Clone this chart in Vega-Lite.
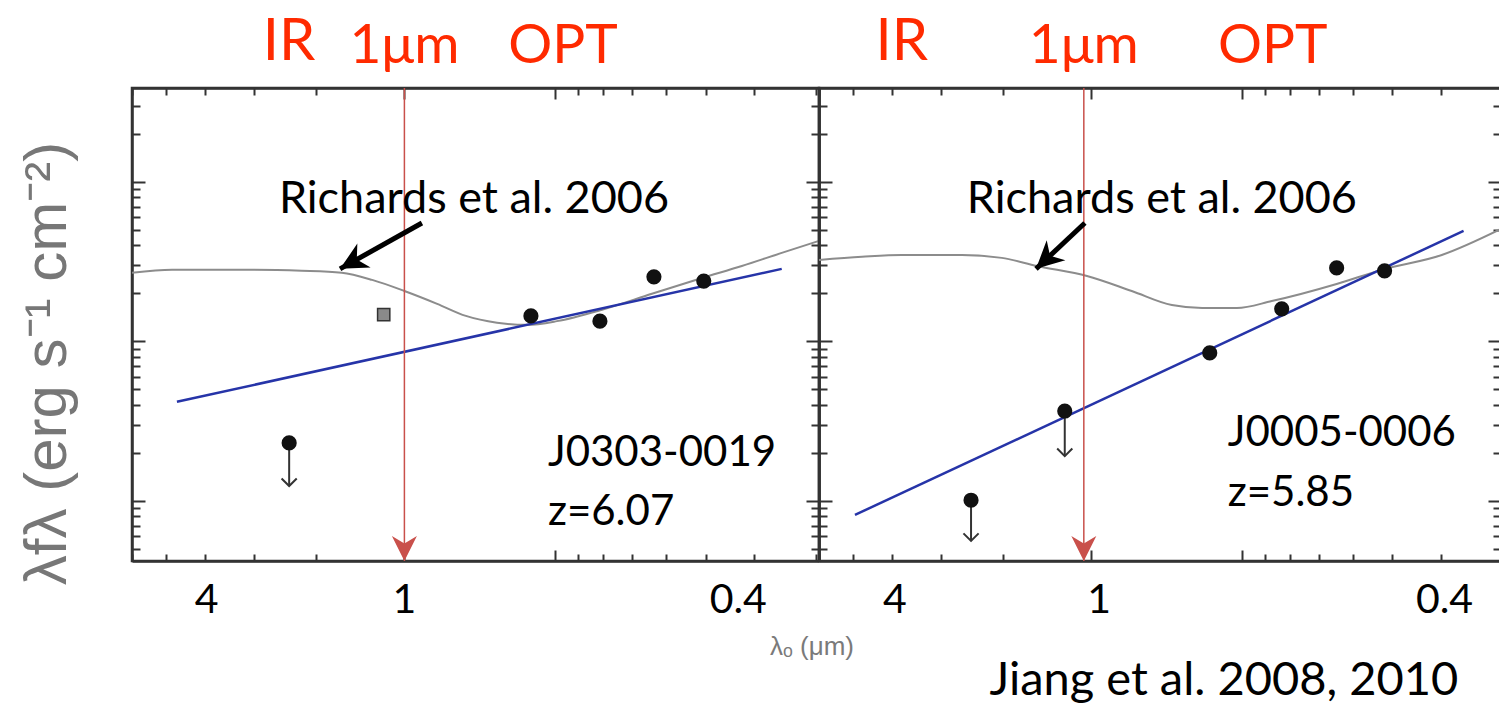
{
  "$schema": "https://vega.github.io/schema/vega-lite/v6.json",
  "background": "white",
  "padding": {"left": 15, "top": 12, "right": 0, "bottom": 0},
  "bounds": "flush",
  "spacing": 0,
  "config": {
    "view": {"stroke": "#333333", "strokeWidth": 2.5},
    "axis": {"grid": false}
  },
  "datasets": {
    "curve": [
      {"panel": "left", "wl": 7.01, "flux": 2.69e-13},
      {"panel": "left", "wl": 5.83, "flux": 2.81e-13},
      {"panel": "left", "wl": 4.04, "flux": 2.81e-13},
      {"panel": "left", "wl": 3.21, "flux": 2.77e-13},
      {"panel": "left", "wl": 2.67, "flux": 2.69e-13},
      {"panel": "left", "wl": 2.32, "flux": 2.43e-13},
      {"panel": "left", "wl": 2.0, "flux": 2.07e-13},
      {"panel": "left", "wl": 1.72, "flux": 1.72e-13},
      {"panel": "left", "wl": 1.507, "flux": 1.445e-13},
      {"panel": "left", "wl": 1.306, "flux": 1.31e-13},
      {"panel": "left", "wl": 1.138, "flux": 1.27e-13},
      {"panel": "left", "wl": 0.991, "flux": 1.34e-13},
      {"panel": "left", "wl": 0.805, "flux": 1.58e-13},
      {"panel": "left", "wl": 0.64, "flux": 1.99e-13},
      {"panel": "left", "wl": 0.508, "flux": 2.5e-13},
      {"panel": "left", "wl": 0.423, "flux": 2.97e-13},
      {"panel": "left", "wl": 0.352, "flux": 3.59e-13},
      {"panel": "left", "wl": 0.2965, "flux": 4.27e-13},
      {"panel": "right", "wl": 7.01, "flux": 3.24e-13},
      {"panel": "right", "wl": 5.75, "flux": 3.39e-13},
      {"panel": "right", "wl": 4.79, "flux": 3.48e-13},
      {"panel": "right", "wl": 3.63, "flux": 3.48e-13},
      {"panel": "right", "wl": 3.02, "flux": 3.34e-13},
      {"panel": "right", "wl": 2.57, "flux": 2.97e-13},
      {"panel": "right", "wl": 2.04, "flux": 2.57e-13},
      {"panel": "right", "wl": 1.66, "flux": 2.07e-13},
      {"panel": "right", "wl": 1.38, "flux": 1.69e-13},
      {"panel": "right", "wl": 1.2, "flux": 1.62e-13},
      {"panel": "right", "wl": 1.023, "flux": 1.62e-13},
      {"panel": "right", "wl": 0.871, "flux": 1.79e-13},
      {"panel": "right", "wl": 0.646, "flux": 2.29e-13},
      {"panel": "right", "wl": 0.525, "flux": 2.81e-13},
      {"panel": "right", "wl": 0.398, "flux": 3.48e-13},
      {"panel": "right", "wl": 0.303, "flux": 5.07e-13}
    ],
    "fit": [
      {"panel": "left", "wl": 5.7, "flux": 4.18e-14},
      {"panel": "left", "wl": 0.352, "flux": 2.85e-13},
      {"panel": "right", "wl": 5.94, "flux": 8.17e-15},
      {"panel": "right", "wl": 0.36, "flux": 4.93e-13}
    ],
    "phot": [
      {"panel": "left", "wl": 3.4, "flux": 2.31e-14, "kind": "limit", "limit": 1.24e-14},
      {"panel": "left", "wl": 2.2, "flux": 1.47e-13, "kind": "uncertain"},
      {"panel": "left", "wl": 1.117, "flux": 1.445e-13, "kind": "detection"},
      {"panel": "left", "wl": 0.813, "flux": 1.34e-13, "kind": "detection"},
      {"panel": "left", "wl": 0.634, "flux": 2.54e-13, "kind": "detection"},
      {"panel": "left", "wl": 0.504, "flux": 2.39e-13, "kind": "detection"},
      {"panel": "right", "wl": 3.48, "flux": 1.01e-14, "kind": "limit", "limit": 5.61e-15},
      {"panel": "right", "wl": 2.26, "flux": 3.66e-14, "kind": "limit", "limit": 1.91e-14},
      {"panel": "right", "wl": 1.159, "flux": 8.47e-14, "kind": "detection"},
      {"panel": "right", "wl": 0.832, "flux": 1.6e-13, "kind": "detection"},
      {"panel": "right", "wl": 0.646, "flux": 2.89e-13, "kind": "detection"},
      {"panel": "right", "wl": 0.518, "flux": 2.77e-13, "kind": "detection"}
    ],
    "marker": [
      {"panel": "left", "wl": 2.0},
      {"panel": "right", "wl": 2.07}
    ],
    "pointer": [
      {"panel": "left", "wl": 1.845, "flux": 5.53e-13, "wl2": 2.69, "flux2": 2.85e-13},
      {"panel": "right", "wl": 2.06, "flux": 5.53e-13, "wl2": 2.58, "flux2": 2.85e-13}
    ],
    "notes": [
      {"panel": "left", "role": "ir", "text": "IR", "wl": 3.4, "flux": 5.82e-12},
      {"panel": "left", "role": "band", "text": "1μm", "wl": 2.0, "flux": 5.57e-12},
      {"panel": "left", "role": "band", "text": "OPT", "wl": 0.964, "flux": 5.57e-12},
      {"panel": "left", "role": "tick", "text": "4", "wl": 4.97, "flux": 1.99e-15},
      {"panel": "left", "role": "tick", "text": "1", "wl": 2.0, "flux": 1.99e-15},
      {"panel": "left", "role": "tick", "text": "0.4", "wl": 0.43, "flux": 1.99e-15},
      {"panel": "left", "role": "template", "text": "Richards et al. 2006", "wl": 1.452, "flux": 6.4e-13},
      {"panel": "left", "role": "object", "text": "J0303-0019", "wl": 1.033, "flux": 1.66e-14},
      {"panel": "left", "role": "object", "text": "z=6.07", "wl": 1.033, "flux": 7.08e-15},
      {"panel": "left", "role": "xtitle", "text": "λₒ (μm)", "wl": 0.3715, "flux": 1.08e-15},
      {"panel": "right", "role": "ir", "text": "IR", "wl": 4.79, "flux": 5.82e-12},
      {"panel": "right", "role": "band", "text": "1μm", "wl": 2.07, "flux": 5.57e-12},
      {"panel": "right", "role": "band", "text": "OPT", "wl": 0.867, "flux": 5.57e-12},
      {"panel": "right", "role": "tick", "text": "4", "wl": 4.94, "flux": 1.99e-15},
      {"panel": "right", "role": "tick", "text": "1", "wl": 1.93, "flux": 1.99e-15},
      {"panel": "right", "role": "tick", "text": "0.4", "wl": 0.393, "flux": 1.99e-15},
      {"panel": "right", "role": "template", "text": "Richards et al. 2006", "wl": 1.445, "flux": 6.4e-13},
      {"panel": "right", "role": "object", "text": "J0005-0006", "wl": 1.067, "flux": 2.21e-14},
      {"panel": "right", "role": "object", "text": "z=5.85", "wl": 1.067, "flux": 9.3e-15},
      {"panel": "right", "role": "credit", "text": "Jiang et al. 2008, 2010", "wl": 1.086, "flux": 6.1e-16}
    ]
  },
  "hconcat": [
    {
      "width": 687,
      "height": 473,
      "resolve": {"axis": {"x": "independent", "y": "independent"}},
      "layer": [
        {
          "data": {"name": "curve"},
          "transform": [{"filter": "datum.panel === 'left'"}],
          "mark": {"type": "line", "color": "#8c8c8c", "strokeWidth": 2, "interpolate": "monotone"},
          "encoding": {
            "x": {"field": "wl", "type": "quantitative", "scale": {"type": "log", "domain": [0.2965, 7.01], "reverse": true, "nice": false},
              "axis": {"orient": "bottom", "values": [7, 6, 5, 4, 3, 2, 1, 0.9, 0.8, 0.7, 0.6, 0.5, 0.4, 0.3], "labels": false, "title": null,
                "tickSize": {"condition": {"test": "datum.value === 1 || datum.value === 2", "value": -11}, "value": -7},
                "tickColor": "#333333", "tickWidth": 2, "domainColor": "#333333", "domainWidth": 2.5}},
            "y": {"field": "flux", "type": "quantitative", "scale": {"type": "log", "domain": [4.2e-15, 3.88e-12], "nice": false},
              "axis": {"orient": "left", "values": [5e-15, 6e-15, 7e-15, 8e-15, 9e-15, 1e-14, 2e-14, 3e-14, 4e-14, 5e-14, 6e-14, 7e-14, 8e-14, 9e-14, 1e-13, 2e-13, 3e-13, 4e-13, 5e-13, 6e-13, 7e-13, 8e-13, 9e-13, 1e-12, 2e-12, 3e-12],
                "labels": false, "title": "λfλ (erg s⁻¹ cm⁻²)", "titleFont": "Liberation Sans", "titleFontSize": 60, "titleFontWeight": "normal", "titleColor": "#777777",
                "titleAngle": -90, "titleX": -85, "titleY": 275, "titleAlign": "center", "titleBaseline": "middle",
                "tickSize": {"condition": {"test": "datum.value === 1e-14 || datum.value === 1e-13 || datum.value === 1e-12", "value": -13}, "value": -8},
                "tickColor": "#333333", "tickWidth": 2, "domainColor": "#333333", "domainWidth": 2.5}}
          }
        },
        {
          "data": {"name": "fit"},
          "transform": [{"filter": "datum.panel === 'left'"}],
          "mark": {"type": "line", "color": "#2634a8", "strokeWidth": 2.5},
          "encoding": {
            "x": {"field": "wl", "type": "quantitative",
              "axis": {"orient": "top", "values": [7, 6, 5, 4, 3, 2, 1, 0.9, 0.8, 0.7, 0.6, 0.5, 0.4, 0.3], "labels": false, "title": null,
                "tickSize": {"condition": {"test": "datum.value === 1 || datum.value === 2", "value": -11}, "value": -7},
                "tickColor": "#333333", "tickWidth": 2, "domainColor": "#333333", "domainWidth": 2.5}},
            "y": {"field": "flux", "type": "quantitative",
              "axis": {"orient": "right", "values": [5e-15, 6e-15, 7e-15, 8e-15, 9e-15, 1e-14, 2e-14, 3e-14, 4e-14, 5e-14, 6e-14, 7e-14, 8e-14, 9e-14, 1e-13, 2e-13, 3e-13, 4e-13, 5e-13, 6e-13, 7e-13, 8e-13, 9e-13, 1e-12, 2e-12, 3e-12],
                "labels": false, "title": null,
                "tickSize": {"condition": {"test": "datum.value === 1e-14 || datum.value === 1e-13 || datum.value === 1e-12", "value": -13}, "value": -8},
                "tickColor": "#333333", "tickWidth": 2, "domainColor": "#333333", "domainWidth": 2.5}}
          }
        },
        {
          "data": {"name": "marker"},
          "transform": [{"filter": "datum.panel === 'left'"}],
          "mark": {"type": "rule", "color": "#c9504b", "strokeWidth": 1.5},
          "encoding": {"x": {"field": "wl", "type": "quantitative", "axis": null}}
        },
        {
          "data": {"name": "marker"},
          "transform": [{"filter": "datum.panel === 'left'"}],
          "mark": {"type": "point", "shape": "M0,0 L0.5,1 L0,0.7 L-0.5,1 Z", "filled": true, "color": "#c9504b", "opacity": 1, "size": 2500, "angle": 180},
          "encoding": {"x": {"field": "wl", "type": "quantitative", "axis": null}, "y": {"datum": 4.2e-15, "type": "quantitative", "axis": null}}
        },
        {
          "data": {"name": "phot"},
          "transform": [{"filter": "datum.panel === 'left' && datum.kind === 'limit'"}],
          "mark": {"type": "rule", "color": "#333333", "strokeWidth": 2},
          "encoding": {"x": {"field": "wl", "type": "quantitative", "axis": null}, "y": {"field": "flux", "type": "quantitative", "axis": null}, "y2": {"field": "limit"}}
        },
        {
          "data": {"name": "phot"},
          "transform": [{"filter": "datum.panel === 'left' && datum.kind === 'limit'"}],
          "mark": {"type": "point", "shape": "M-1,-1 L0,0 L1,-1", "filled": false, "color": "#333333", "strokeWidth": 2, "opacity": 1, "size": 230},
          "encoding": {"x": {"field": "wl", "type": "quantitative", "axis": null}, "y": {"field": "limit", "type": "quantitative", "axis": null}}
        },
        {
          "data": {"name": "phot"},
          "transform": [{"filter": "datum.panel === 'left' && datum.kind !== 'uncertain'"}],
          "mark": {"type": "circle", "color": "#111111", "opacity": 1, "size": 230},
          "encoding": {"x": {"field": "wl", "type": "quantitative", "axis": null}, "y": {"field": "flux", "type": "quantitative", "axis": null}}
        },
        {
          "data": {"name": "phot"},
          "transform": [{"filter": "datum.panel === 'left' && datum.kind === 'uncertain'"}],
          "mark": {"type": "point", "shape": "square", "filled": true, "fill": "#8a8a8a", "stroke": "#333333", "strokeWidth": 1.5, "opacity": 1, "size": 150},
          "encoding": {"x": {"field": "wl", "type": "quantitative", "axis": null}, "y": {"field": "flux", "type": "quantitative", "axis": null}}
        },
        {
          "data": {"name": "pointer"},
          "transform": [{"filter": "datum.panel === 'left'"}],
          "mark": {"type": "rule", "color": "#000000", "strokeWidth": 5},
          "encoding": {"x": {"field": "wl", "type": "quantitative", "axis": null}, "y": {"field": "flux", "type": "quantitative", "axis": null}, "x2": {"field": "wl2"}, "y2": {"field": "flux2"}}
        },
        {
          "data": {"name": "pointer"},
          "transform": [{"filter": "datum.panel === 'left'"}],
          "mark": {"type": "point", "shape": "M0,0 L0.5,1 L0,0.7 L-0.5,1 Z", "filled": true, "color": "#000000", "opacity": 1, "size": 3000, "angle": 241},
          "encoding": {"x": {"field": "wl2", "type": "quantitative", "axis": null}, "y": {"field": "flux2", "type": "quantitative", "axis": null}}
        },
        {
          "data": {"name": "notes"},
          "transform": [{"filter": "datum.panel === 'left' && datum.role === 'ir'"}],
          "mark": {"type": "text", "font": "Lato", "fontSize": 58, "color": "#ff2a00", "align": "center", "baseline": "alphabetic"},
          "encoding": {"x": {"field": "wl", "type": "quantitative", "axis": null}, "y": {"field": "flux", "type": "quantitative", "axis": null}, "text": {"field": "text"}}
        },
        {
          "data": {"name": "notes"},
          "transform": [{"filter": "datum.panel === 'left' && datum.role === 'band'"}],
          "mark": {"type": "text", "font": "Lato", "fontSize": 55, "color": "#ff2a00", "align": "center", "baseline": "alphabetic"},
          "encoding": {"x": {"field": "wl", "type": "quantitative", "axis": null}, "y": {"field": "flux", "type": "quantitative", "axis": null}, "text": {"field": "text"}}
        },
        {
          "data": {"name": "notes"},
          "transform": [{"filter": "datum.panel === 'left' && datum.role === 'tick'"}],
          "mark": {"type": "text", "font": "Lato", "fontSize": 41, "color": "#000000", "align": "center", "baseline": "alphabetic"},
          "encoding": {"x": {"field": "wl", "type": "quantitative", "axis": null}, "y": {"field": "flux", "type": "quantitative", "axis": null}, "text": {"field": "text"}}
        },
        {
          "data": {"name": "notes"},
          "transform": [{"filter": "datum.panel === 'left' && datum.role === 'template'"}],
          "mark": {"type": "text", "font": "Lato", "fontSize": 45, "color": "#000000", "align": "center", "baseline": "alphabetic"},
          "encoding": {"x": {"field": "wl", "type": "quantitative", "axis": null}, "y": {"field": "flux", "type": "quantitative", "axis": null}, "text": {"field": "text"}}
        },
        {
          "data": {"name": "notes"},
          "transform": [{"filter": "datum.panel === 'left' && datum.role === 'object'"}],
          "mark": {"type": "text", "font": "Lato", "fontSize": 42, "color": "#000000", "align": "left", "baseline": "alphabetic"},
          "encoding": {"x": {"field": "wl", "type": "quantitative", "axis": null}, "y": {"field": "flux", "type": "quantitative", "axis": null}, "text": {"field": "text"}}
        },
        {
          "data": {"name": "notes"},
          "transform": [{"filter": "datum.panel === 'left' && datum.role === 'xtitle'"}],
          "mark": {"type": "text", "font": "Liberation Sans", "fontSize": 26, "color": "#7a7a7a", "align": "left", "baseline": "alphabetic"},
          "encoding": {"x": {"field": "wl", "type": "quantitative", "axis": null}, "y": {"field": "flux", "type": "quantitative", "axis": null}, "text": {"field": "text"}}
        }
      ]
    },
    {
      "width": 682,
      "height": 473,
      "resolve": {"axis": {"x": "independent", "y": "independent"}},
      "layer": [
        {
          "data": {"name": "curve"},
          "transform": [{"filter": "datum.panel === 'right'"}],
          "mark": {"type": "line", "color": "#8c8c8c", "strokeWidth": 2, "interpolate": "monotone"},
          "encoding": {
            "x": {"field": "wl", "type": "quantitative", "scale": {"type": "log", "domain": [0.303, 7.01], "reverse": true, "nice": false},
              "axis": {"orient": "bottom", "values": [7, 6, 5, 4, 3, 2, 1, 0.9, 0.8, 0.7, 0.6, 0.5, 0.4], "labels": false, "title": null,
                "tickSize": {"condition": {"test": "datum.value === 1 || datum.value === 2", "value": -11}, "value": -7},
                "tickColor": "#333333", "tickWidth": 2, "domainColor": "#333333", "domainWidth": 2.5}},
            "y": {"field": "flux", "type": "quantitative", "scale": {"type": "log", "domain": [4.2e-15, 3.88e-12], "nice": false},
              "axis": {"orient": "left", "values": [5e-15, 6e-15, 7e-15, 8e-15, 9e-15, 1e-14, 2e-14, 3e-14, 4e-14, 5e-14, 6e-14, 7e-14, 8e-14, 9e-14, 1e-13, 2e-13, 3e-13, 4e-13, 5e-13, 6e-13, 7e-13, 8e-13, 9e-13, 1e-12, 2e-12, 3e-12],
                "labels": false, "title": null,
                "tickSize": {"condition": {"test": "datum.value === 1e-14 || datum.value === 1e-13 || datum.value === 1e-12", "value": -13}, "value": -8},
                "tickColor": "#333333", "tickWidth": 2, "domainColor": "#333333", "domainWidth": 2.5}}
          }
        },
        {
          "data": {"name": "fit"},
          "transform": [{"filter": "datum.panel === 'right'"}],
          "mark": {"type": "line", "color": "#2634a8", "strokeWidth": 2.5},
          "encoding": {
            "x": {"field": "wl", "type": "quantitative",
              "axis": {"orient": "top", "values": [7, 6, 5, 4, 3, 2, 1, 0.9, 0.8, 0.7, 0.6, 0.5, 0.4], "labels": false, "title": null,
                "tickSize": {"condition": {"test": "datum.value === 1 || datum.value === 2", "value": -11}, "value": -7},
                "tickColor": "#333333", "tickWidth": 2, "domainColor": "#333333", "domainWidth": 2.5}},
            "y": {"field": "flux", "type": "quantitative",
              "axis": {"orient": "right", "values": [5e-15, 6e-15, 7e-15, 8e-15, 9e-15, 1e-14, 2e-14, 3e-14, 4e-14, 5e-14, 6e-14, 7e-14, 8e-14, 9e-14, 1e-13, 2e-13, 3e-13, 4e-13, 5e-13, 6e-13, 7e-13, 8e-13, 9e-13, 1e-12, 2e-12, 3e-12],
                "labels": false, "title": null,
                "tickSize": {"condition": {"test": "datum.value === 1e-14 || datum.value === 1e-13 || datum.value === 1e-12", "value": -13}, "value": -8},
                "tickColor": "#333333", "tickWidth": 2, "domainColor": "#333333", "domainWidth": 2.5}}
          }
        },
        {
          "data": {"name": "marker"},
          "transform": [{"filter": "datum.panel === 'right'"}],
          "mark": {"type": "rule", "color": "#c9504b", "strokeWidth": 1.5},
          "encoding": {"x": {"field": "wl", "type": "quantitative", "axis": null}}
        },
        {
          "data": {"name": "marker"},
          "transform": [{"filter": "datum.panel === 'right'"}],
          "mark": {"type": "point", "shape": "M0,0 L0.5,1 L0,0.7 L-0.5,1 Z", "filled": true, "color": "#c9504b", "opacity": 1, "size": 2500, "angle": 180},
          "encoding": {"x": {"field": "wl", "type": "quantitative", "axis": null}, "y": {"datum": 4.2e-15, "type": "quantitative", "axis": null}}
        },
        {
          "data": {"name": "phot"},
          "transform": [{"filter": "datum.panel === 'right' && datum.kind === 'limit'"}],
          "mark": {"type": "rule", "color": "#333333", "strokeWidth": 2},
          "encoding": {"x": {"field": "wl", "type": "quantitative", "axis": null}, "y": {"field": "flux", "type": "quantitative", "axis": null}, "y2": {"field": "limit"}}
        },
        {
          "data": {"name": "phot"},
          "transform": [{"filter": "datum.panel === 'right' && datum.kind === 'limit'"}],
          "mark": {"type": "point", "shape": "M-1,-1 L0,0 L1,-1", "filled": false, "color": "#333333", "strokeWidth": 2, "opacity": 1, "size": 230},
          "encoding": {"x": {"field": "wl", "type": "quantitative", "axis": null}, "y": {"field": "limit", "type": "quantitative", "axis": null}}
        },
        {
          "data": {"name": "phot"},
          "transform": [{"filter": "datum.panel === 'right'"}],
          "mark": {"type": "circle", "color": "#111111", "opacity": 1, "size": 230},
          "encoding": {"x": {"field": "wl", "type": "quantitative", "axis": null}, "y": {"field": "flux", "type": "quantitative", "axis": null}}
        },
        {
          "data": {"name": "pointer"},
          "transform": [{"filter": "datum.panel === 'right'"}],
          "mark": {"type": "rule", "color": "#000000", "strokeWidth": 5},
          "encoding": {"x": {"field": "wl", "type": "quantitative", "axis": null}, "y": {"field": "flux", "type": "quantitative", "axis": null}, "x2": {"field": "wl2"}, "y2": {"field": "flux2"}}
        },
        {
          "data": {"name": "pointer"},
          "transform": [{"filter": "datum.panel === 'right'"}],
          "mark": {"type": "point", "shape": "M0,0 L0.5,1 L0,0.7 L-0.5,1 Z", "filled": true, "color": "#000000", "opacity": 1, "size": 3000, "angle": 227},
          "encoding": {"x": {"field": "wl2", "type": "quantitative", "axis": null}, "y": {"field": "flux2", "type": "quantitative", "axis": null}}
        },
        {
          "data": {"name": "notes"},
          "transform": [{"filter": "datum.panel === 'right' && datum.role === 'ir'"}],
          "mark": {"type": "text", "font": "Lato", "fontSize": 58, "color": "#ff2a00", "align": "center", "baseline": "alphabetic"},
          "encoding": {"x": {"field": "wl", "type": "quantitative", "axis": null}, "y": {"field": "flux", "type": "quantitative", "axis": null}, "text": {"field": "text"}}
        },
        {
          "data": {"name": "notes"},
          "transform": [{"filter": "datum.panel === 'right' && datum.role === 'band'"}],
          "mark": {"type": "text", "font": "Lato", "fontSize": 55, "color": "#ff2a00", "align": "center", "baseline": "alphabetic"},
          "encoding": {"x": {"field": "wl", "type": "quantitative", "axis": null}, "y": {"field": "flux", "type": "quantitative", "axis": null}, "text": {"field": "text"}}
        },
        {
          "data": {"name": "notes"},
          "transform": [{"filter": "datum.panel === 'right' && datum.role === 'tick'"}],
          "mark": {"type": "text", "font": "Lato", "fontSize": 41, "color": "#000000", "align": "center", "baseline": "alphabetic"},
          "encoding": {"x": {"field": "wl", "type": "quantitative", "axis": null}, "y": {"field": "flux", "type": "quantitative", "axis": null}, "text": {"field": "text"}}
        },
        {
          "data": {"name": "notes"},
          "transform": [{"filter": "datum.panel === 'right' && datum.role === 'template'"}],
          "mark": {"type": "text", "font": "Lato", "fontSize": 45, "color": "#000000", "align": "center", "baseline": "alphabetic"},
          "encoding": {"x": {"field": "wl", "type": "quantitative", "axis": null}, "y": {"field": "flux", "type": "quantitative", "axis": null}, "text": {"field": "text"}}
        },
        {
          "data": {"name": "notes"},
          "transform": [{"filter": "datum.panel === 'right' && datum.role === 'object'"}],
          "mark": {"type": "text", "font": "Lato", "fontSize": 42, "color": "#000000", "align": "left", "baseline": "alphabetic"},
          "encoding": {"x": {"field": "wl", "type": "quantitative", "axis": null}, "y": {"field": "flux", "type": "quantitative", "axis": null}, "text": {"field": "text"}}
        },
        {
          "data": {"name": "notes"},
          "transform": [{"filter": "datum.panel === 'right' && datum.role === 'credit'"}],
          "mark": {"type": "text", "font": "Lato", "fontSize": 47, "color": "#000000", "align": "center", "baseline": "alphabetic"},
          "encoding": {"x": {"field": "wl", "type": "quantitative", "axis": null}, "y": {"field": "flux", "type": "quantitative", "axis": null}, "text": {"field": "text"}}
        }
      ]
    }
  ]
}
